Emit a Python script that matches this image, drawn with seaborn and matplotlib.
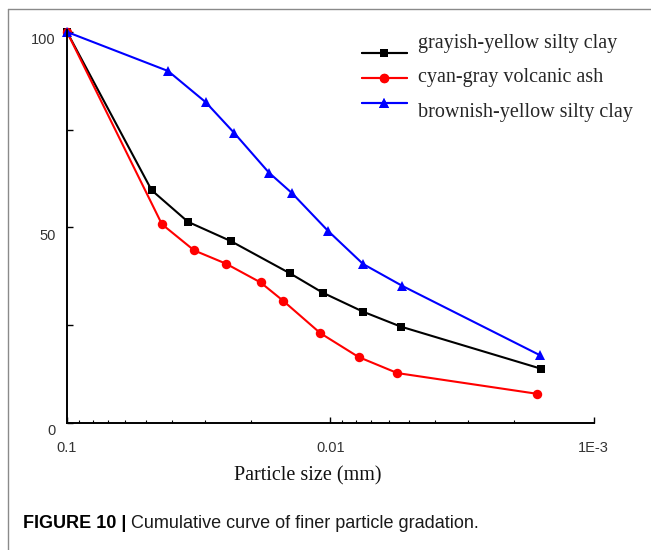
import matplotlib
matplotlib.use('Agg')
import matplotlib.pyplot as plt
import matplotlib.transforms as mtransforms
from matplotlib.lines import Line2D
from matplotlib.ticker import NullFormatter
import pandas as pd
import seaborn as sns

# values (particle size in mm, percent finer)
gray_size = [0.1, 0.0477, 0.0347, 0.0239, 0.0142, 0.0107, 0.0075, 0.0054, 0.00158]
gray_pass = [100, 59.5, 51.4, 46.5, 38.2, 33.3, 28.4, 24.6, 13.8]
ash_size = [0.1, 0.0436, 0.0329, 0.0249, 0.0184, 0.0151, 0.0109, 0.0078, 0.00556, 0.00164]
ash_pass = [100, 50.8, 44.1, 40.7, 35.9, 31.2, 22.9, 16.8, 12.7, 7.4]
brown_size = [0.1, 0.0413, 0.0297, 0.0232, 0.0171, 0.0140, 0.0102, 0.0075, 0.00532, 0.00159]
brown_pass = [100, 90, 82, 74.2, 64, 58.8, 49.1, 40.6, 35.0, 17.2]

names = ['grayish-yellow silty clay', 'cyan-gray volcanic ash', 'brownish-yellow silty clay']
colors = ['#000000', '#ff0000', '#0000ff']
markers = ['s', 'o', '^']
msizes = [6.2, 6.8, 7.8]

x_ticks = [0.1, 0.01, 0.001]
x_ticklabels = ['0.1', '0.01', '1E-3']
y_ticks = [0, 25, 50, 75, 100]
y_ticklabels = ['0', '', '50', '', '100']

sns.set_style('ticks')
plt.rcParams['font.family'] = ['Liberation Sans', 'DejaVu Sans']

W, H = 651, 550
fig = plt.figure(figsize=(W / 100, H / 100), dpi=100)
ax = fig.add_axes([67 / W, 1 - 422.7 / H, 526.5 / W, 392.7 / H])
ax.set_xscale('log')

series = [(gray_size, gray_pass), (ash_size, ash_pass), (brown_size, brown_pass)]
for (sx, sy), name, c, m, ms in zip(series, names, colors, markers, msizes):
    df = pd.DataFrame({'size': sx, 'pass': sy})
    sns.lineplot(data=df, x='size', y='pass', ax=ax, color=c, marker=m,
                 markersize=ms, markeredgewidth=0, linewidth=1.5,
                 sort=False, estimator=None, legend=False, clip_on=False,
                 label=name)

ax.set_xlim(0.1, 0.001)
ax.set_ylim(0, 100.5)
ax.set_xticks(x_ticks, labels=x_ticklabels)
ax.xaxis.set_minor_formatter(NullFormatter())
ax.set_yticks(y_ticks, labels=y_ticklabels)
ax.set_xlabel('')
ax.set_ylabel('')

for side in ['top', 'right']:
    ax.spines[side].set_visible(False)
for side in ['left', 'bottom']:
    ax.spines[side].set_linewidth(1.4)
    ax.spines[side].set_color('black')

ax.tick_params(axis='both', which='major', direction='in', length=4, width=1,
               labelsize=10.5, labelcolor='#333333', color='black')
ax.tick_params(axis='x', which='minor', direction='in', length=2.5, width=0.8,
               color='black')
ax.tick_params(axis='x', which='major', pad=13)
ax.tick_params(axis='y', which='major', pad=8)

# y tick labels sit a little below their ticks in the original
shift = mtransforms.ScaledTranslation(0, -7 / 100, fig.dpi_scale_trans)
for lab in ax.get_yticklabels():
    lab.set_transform(lab.get_transform() + shift)

fig.text(308 / W, 1 - 476 / H, 'Particle size (mm)', family='Liberation Serif',
         fontsize=14.5, ha='center', va='center', color='#111111')

# legend: handles and texts are spaced differently in the source
lines = ax.get_lines()
leg_handles = fig.legend(lines, ['', '', ''], loc='upper left',
                         bbox_to_anchor=(361.7 / W, 1 - 47 / H),
                         frameon=False, fontsize=10, handlelength=3.28,
                         handletextpad=0, labelspacing=0.79, borderpad=0,
                         borderaxespad=0)
fig.add_artist(leg_handles)
blank = [Line2D([], [], alpha=0) for _ in names]
fig.legend(blank, names, loc='upper left',
           bbox_to_anchor=(418.3 / W, 1 - 34 / H), frameon=False,
           prop={'family': 'Liberation Serif', 'size': 14.5},
           handlelength=0, handletextpad=0, labelspacing=0.75, borderpad=0,
           borderaxespad=0)

# caption
cap_y = 1 - 523 / H
t1 = fig.text(23 / W, cap_y, 'FIGURE 10 |', fontsize=13, weight='bold',
              va='center', color='black')
fig.canvas.draw()
bb = t1.get_window_extent()
fig.text(bb.x1 / W + 5 / W, cap_y, 'Cumulative curve of finer particle gradation.',
         fontsize=13, va='center', color='#1a1a1a')

# page frame lines
fig.add_artist(Line2D([8.3 / W, 8.3 / W], [0, 1 - 9.3 / H], transform=fig.transFigure,
                      color='#8a8a8a', linewidth=1))
fig.add_artist(Line2D([8.3 / W, 1], [1 - 9.3 / H, 1 - 9.3 / H], transform=fig.transFigure,
                      color='#8a8a8a', linewidth=1))

fig.savefig('out.png', dpi=100)
